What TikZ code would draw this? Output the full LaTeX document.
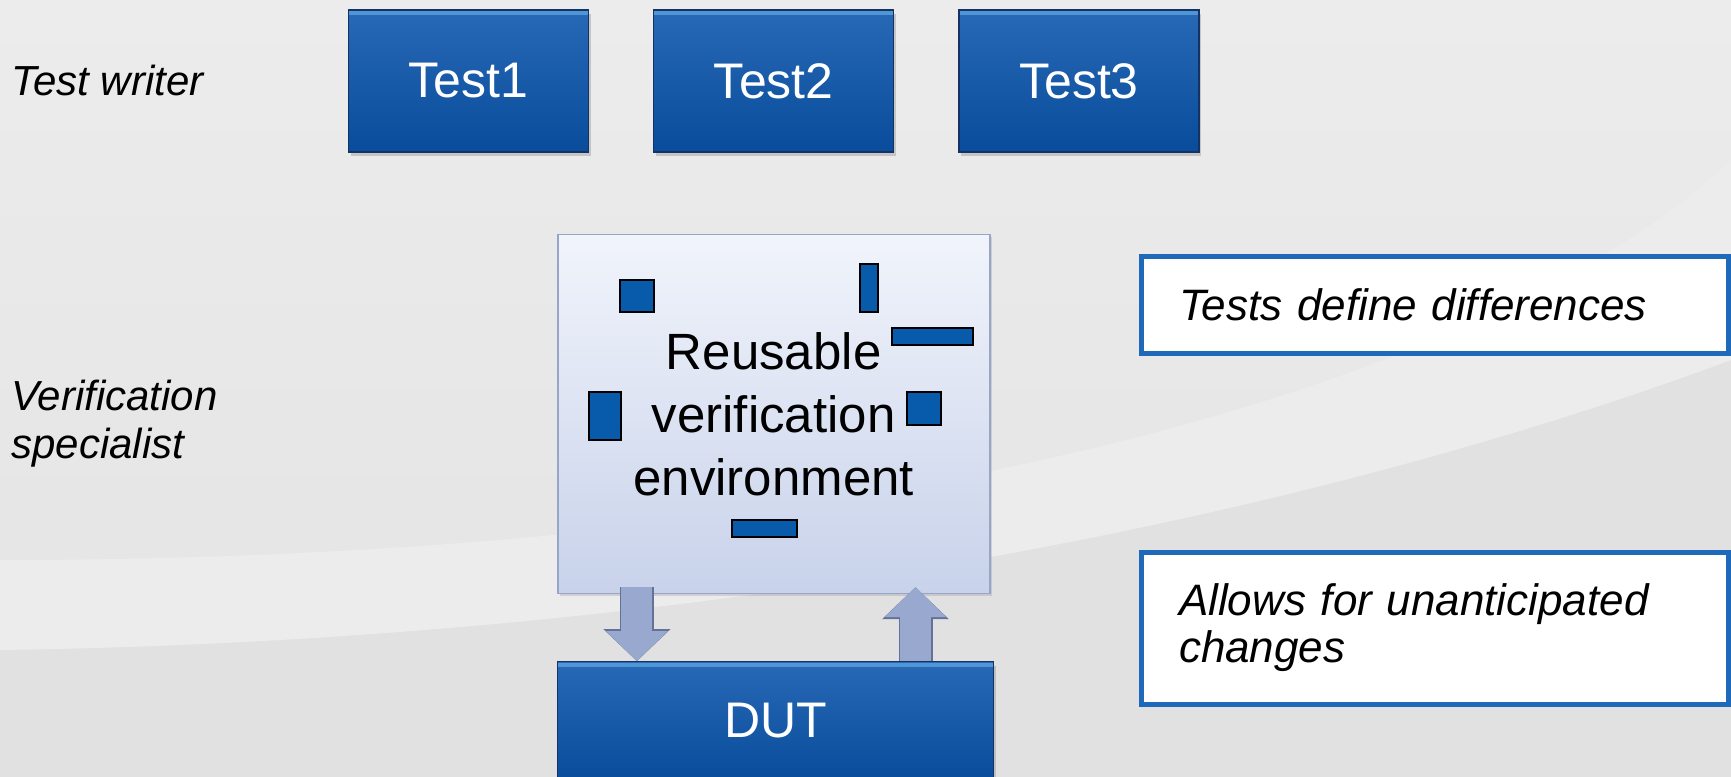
\documentclass[tikz,border=0pt]{standalone}
\usepackage{fontspec}
\setmainfont{Liberation Sans}
\usepackage{xcolor}
\definecolor{topblue}{RGB}{40,105,182}
\definecolor{botblue}{RGB}{8,76,155}
\definecolor{edgeblue}{RGB}{20,50,100}
\definecolor{gloss}{RGB}{80,150,215}
\definecolor{envtop}{RGB}{241,244,251}
\definecolor{envbot}{RGB}{200,210,234}
\definecolor{envedge}{RGB}{150,165,200}
\definecolor{chipblue}{RGB}{8,90,170}
\definecolor{arrowfill}{RGB}{152,168,206}
\definecolor{arrowedge}{RGB}{100,114,152}
\definecolor{noteblue}{RGB}{30,105,185}
\definecolor{bgtop}{RGB}{236,236,236}
\definecolor{bgmid}{RGB}{227,227,227}
\definecolor{bglow}{RGB}{225,225,225}
\definecolor{bgband}{RGB}{236,236,236}
\usepackage{tikz}
\usetikzlibrary{positioning,shadows,arrows.meta,calc}
\tikzset{
	testbox/.style = {
			rectangle,
			top color     = topblue,
			bottom color  = botblue,
			draw          = edgeblue,
			line width    = 0.6pt,
			text          = white,
			minimum width = 120pt,
			minimum height = 71pt,
			font = \fontsize{25pt}{30pt}\selectfont,
			drop shadow = {opacity=0.35, shadow xshift=1pt, shadow yshift=-2pt},
			path picture = {\draw[gloss, line width=2pt]
					([yshift=-1.5pt]path picture bounding box.north west) -- ([yshift=-1.5pt]path picture bounding box.north east);},
		},
	envbox/.style = {
			rectangle,
			top color     = envtop,
			bottom color  = envbot,
			draw          = envedge,
			line width    = 0.8pt,
			align         = center,
			minimum width = 216pt,
			minimum height = 179.5pt,
			font = \fontsize{25.5pt}{31.5pt}\selectfont,
			drop shadow = {opacity=0.25, shadow xshift=1pt, shadow yshift=-1.5pt},
		},
	chip/.style = {fill=chipblue, draw=black, line width=0.6pt},
	flowarrow/.style = {
			draw = arrowfill, line width = 15.5pt,
			-{Triangle[length=15pt, width=30pt]},
			preaction = {draw=arrowedge, line width=17pt, -{Triangle[length=16pt, width=32.5pt]}},
		},
	notebox/.style = {
			rectangle,
			draw          = noteblue,
			line width    = 2.5pt,
			fill          = white,
			align         = left,
			inner xsep    = 19pt,
			text width    = 255.5pt,
			minimum width = 293.5pt,
			font = \itshape\fontsize{22pt}{23.5pt}\selectfont,
		},
	rolelabel/.style = {
			anchor = west, inner sep = 0pt, align = left,
			font = \itshape\fontsize{21pt}{24pt}\selectfont,
		}
}

\begin{document}
\begin{tikzpicture}[x=0.5pt,y=-0.5pt]
	\useasboundingbox (0,0) rectangle (1731,777);
	%background
	\shade[top color=bgtop, bottom color=bgmid] (0,0) rectangle (1731,777);
	\fill[bglow] (0,650) .. controls (700,640) and (1300,520) .. (1731,360) -- (1731,777) -- (0,777) -- cycle;
	\fill[bgband] (0,650) .. controls (700,640) and (1300,520) .. (1731,360) -- (1731,160) .. controls (1500,380) and (900,560) .. (0,560) -- cycle;

	\node[rolelabel] (writer) at (11,80) {Test writer};
	\node[rolelabel] (specialist) at (11,424) {Verification\\specialist};

	\node[testbox] at (468.5,81) (test1) {Test1};
	\node[testbox, right=32pt of test1] (test2) {Test2};
	\node[testbox, right=32pt of test2] (test3) {Test3};

	\node[envbox, below=40.5pt of test2] (env) {Reusable\\verification\\environment};
	\draw[chip] (620,280) rectangle (654,312);
	\draw[chip] (860,264) rectangle (878,312);
	\draw[chip] (892,328) rectangle (973,345);
	\draw[chip] (589,392) rectangle (621,440);
	\draw[chip] (907,392) rectangle (941,425);
	\draw[chip] (732,520) rectangle (797,537);

	\node[testbox, below=33.5pt of env, xshift=1pt, minimum width=218pt, minimum height=59pt] (dut) {DUT};

	\coordinate (dntop) at ([xshift=40pt,yshift=3.5pt]env.south west);
	\coordinate (dnbot) at (dntop |- dut.north);
	\coordinate (uptop) at ([xshift=-37.5pt,yshift=3.5pt]env.south east);
	\coordinate (upbot) at (uptop |- dut.north);
	\draw[flowarrow] (dntop) -- (dnbot);
	\draw[flowarrow] (upbot) -- (uptop);

	\node[notebox, minimum height=48.5pt] at (1434.5,304.5) (note1) {Tests define differences};
	\node[notebox, minimum height=76pt] at (1434.5,628) (note2) {Allows for unanticipated\\changes};
\end{tikzpicture}
\end{document}
